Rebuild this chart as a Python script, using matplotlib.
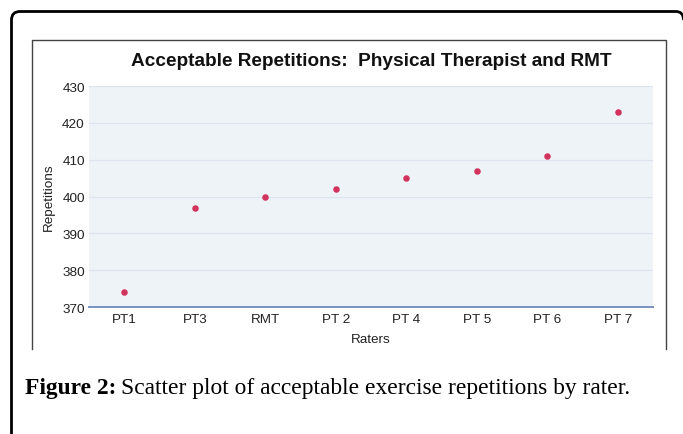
import numpy as np
import matplotlib
matplotlib.use("Agg")
import matplotlib.pyplot as plt
from matplotlib.path import Path
from matplotlib.patches import PathPatch

raters = ["PT1", "PT3", "RMT", "PT 2", "PT 4", "PT 5", "PT 6", "PT 7"]
repetitions = [374, 397, 400, 402, 405, 407, 411, 423]
y_ticks = [370, 380, 390, 400, 410, 420, 430]

W, H = 683, 435
plt.rcParams["font.family"] = ["Liberation Sans", "DejaVu Sans"]

fig = plt.figure(figsize=(W / 100, H / 100), dpi=100)

# page decorations drawn in pixel space
deco = fig.add_axes([0, 0, 1, 1], zorder=0)
deco.set_xlim(0, W)
deco.set_ylim(H, 0)
deco.axis("off")

outer = Path(
    [(11.5, 440), (11.5, 21), (11.5, 12.5), (20, 12.5),
     (676, 12.5), (683.5, 12.5), (683.5, 21)],
    [Path.MOVETO, Path.LINETO, Path.CURVE3, Path.CURVE3,
     Path.LINETO, Path.CURVE3, Path.CURVE3])
deco.add_patch(PathPatch(outer, fill=False, lw=2, ec="black"))
deco.plot([32, 32, 666, 666], [350, 40.7, 40.7, 350], color="#444444", lw=1)

# chart
ax = fig.add_axes([89 / W, 1 - 308 / H, 564 / W, 221 / H], zorder=1)
ax.set_facecolor("#EEF3F8")
x = np.arange(len(raters))
ax.scatter(x, repetitions, s=22, color="#D2335C", zorder=3, linewidths=0)

ax.set_xlim(-0.5, len(raters) - 0.5)
ax.set_ylim(370, 430)
ax.set_yticks(y_ticks)
ax.set_xticks(x)
ax.set_xticklabels(raters)
ax.yaxis.grid(True, color="#DCE5EE", lw=0.9)
ax.set_axisbelow(True)
for side in ["top", "right", "left"]:
    ax.spines[side].set_visible(False)
ax.spines["bottom"].set_color("#7A90BE")
ax.spines["bottom"].set_linewidth(1.4)
ax.tick_params(length=0, labelsize=9.7, colors="#222222")
ax.tick_params(axis="y", pad=3)
ax.tick_params(axis="x", pad=4)

ax.set_xlabel("Raters", fontsize=9.7, color="#222222")
ax.xaxis.label.set_va("center")
ax.xaxis.set_label_coords(0.5, (308 - 340) / 221)
ax.set_ylabel("Repetitions", fontsize=9.7, color="#222222")
ax.yaxis.label.set_va("center")
ax.yaxis.set_label_coords((49 - 89) / 564, 0.5)

fig.text(371 / W, 1 - 62 / H, "Acceptable Repetitions:  Physical Therapist and RMT",
         ha="center", va="center", fontsize=13.7, fontweight="bold", color="#111111")

# caption: bold label followed by regular text
cap_y = 1 - 394 / H
t1 = fig.text(25 / W, cap_y, "Figure 2:", fontsize=16.9, fontweight="bold",
              family="Liberation Serif", va="baseline", ha="left")
fig.canvas.draw()
bb = t1.get_window_extent()
fig.text(bb.x1 / W + 5 / W, cap_y,
         "Scatter plot of acceptable exercise repetitions by rater.",
         fontsize=16.9, family="Liberation Serif", va="baseline", ha="left")

fig.savefig("out.png", dpi=100)
